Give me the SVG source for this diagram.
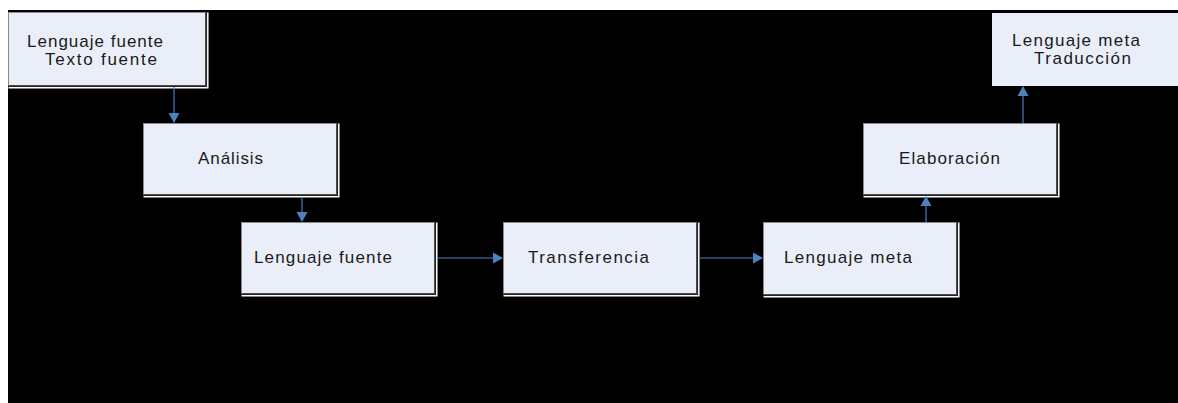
<svg xmlns="http://www.w3.org/2000/svg" width="1178" height="403" viewBox="0 0 1178 403">
  <style>
    .box { fill: #eaeef8; stroke: #8a8a8a; stroke-width: 1; }
    .shade { fill: none; stroke: #4a4a4a; stroke-width: 1.5; }
    .rim { fill: none; stroke: #ffffff; stroke-width: 1.5; }
    .lbl { font-family: "Liberation Sans", Arial, sans-serif; font-size: 17px; fill: #1a1a1a; }
    .conn { stroke: #4a7ebb; stroke-width: 1.2; fill: none; }
  </style>
  <defs>
    <marker id="head" markerWidth="12" markerHeight="12" refX="9" refY="6" orient="auto" markerUnits="userSpaceOnUse">
      <path d="M0,0.5 L10,6 L0,11.5 Z" fill="#4f81bd"/>
    </marker>
  </defs>

  <!-- page and dark canvas -->
  <rect x="0" y="0" width="1178" height="403" fill="#ffffff"/>
  <rect x="8" y="10" width="1170" height="393" fill="#000000"/>

  <g id="n-source-text">
    <rect class="box" x="8.5" y="12.5" width="197" height="73"/>
    <path class="shade" d="M205.8,12.5 V85.8 H8.5"/>
    <path class="rim" d="M207.8,12.5 V87.8 H8.5"/>
    <text class="lbl" x="27" y="47" textLength="136" lengthAdjust="spacing">Lenguaje fuente</text>
    <text class="lbl" x="45" y="65" textLength="112" lengthAdjust="spacing">Texto fuente</text>
  </g>

  <g id="n-analysis">
    <rect class="box" x="143.5" y="123.5" width="193" height="71"/>
    <path class="shade" d="M336.8,123.5 V194.8 H143.5"/>
    <path class="rim" d="M338.8,123.5 V196.8 H143.5"/>
    <text class="lbl" x="198" y="164" textLength="65" lengthAdjust="spacing">Análisis</text>
  </g>

  <g id="n-source-lang">
    <rect class="box" x="241.5" y="222.5" width="193" height="71"/>
    <path class="shade" d="M434.8,222.5 V293.8 H241.5"/>
    <path class="rim" d="M436.8,222.5 V295.8 H241.5"/>
    <text class="lbl" x="254" y="263" textLength="138" lengthAdjust="spacing">Lenguaje fuente</text>
  </g>

  <g id="n-transfer">
    <rect class="box" x="503.5" y="222.5" width="193" height="71"/>
    <path class="shade" d="M696.8,222.5 V293.8 H503.5"/>
    <path class="rim" d="M698.8,222.5 V295.8 H503.5"/>
    <text class="lbl" x="528" y="263" textLength="121" lengthAdjust="spacing">Transferencia</text>
  </g>

  <g id="n-target-lang">
    <rect class="box" x="763.5" y="222.5" width="193" height="72"/>
    <path class="shade" d="M956.8,222.5 V294.8 H763.5"/>
    <path class="rim" d="M958.8,222.5 V296.8 H763.5"/>
    <text class="lbl" x="784" y="263" textLength="128" lengthAdjust="spacing">Lenguaje meta</text>
  </g>

  <g id="n-elaboration">
    <rect class="box" x="863.5" y="123.5" width="193" height="71"/>
    <path class="shade" d="M1056.8,123.5 V194.8 H863.5"/>
    <path class="rim" d="M1058.8,123.5 V196.8 H863.5"/>
    <text class="lbl" x="899" y="164" textLength="101" lengthAdjust="spacing">Elaboración</text>
  </g>

  <g id="n-translation">
    <rect x="992" y="13" width="186" height="73" fill="#eaeef8"/>
    <text class="lbl" x="1012" y="46" textLength="128" lengthAdjust="spacing">Lenguaje meta</text>
    <text class="lbl" x="1034" y="64" textLength="97" lengthAdjust="spacing">Traducción</text>
  </g>

  <g id="connectors">
    <line class="conn" x1="174" y1="87" x2="174" y2="122" marker-end="url(#head)"/>
    <line class="conn" x1="302" y1="197" x2="302" y2="221" marker-end="url(#head)"/>
    <line class="conn" x1="437" y1="258" x2="502" y2="258" marker-end="url(#head)"/>
    <line class="conn" x1="699" y1="258" x2="762" y2="258" marker-end="url(#head)"/>
    <line class="conn" x1="926" y1="222" x2="926" y2="197" marker-end="url(#head)"/>
    <line class="conn" x1="1023" y1="123" x2="1023" y2="87" marker-end="url(#head)"/>
  </g>
</svg>
